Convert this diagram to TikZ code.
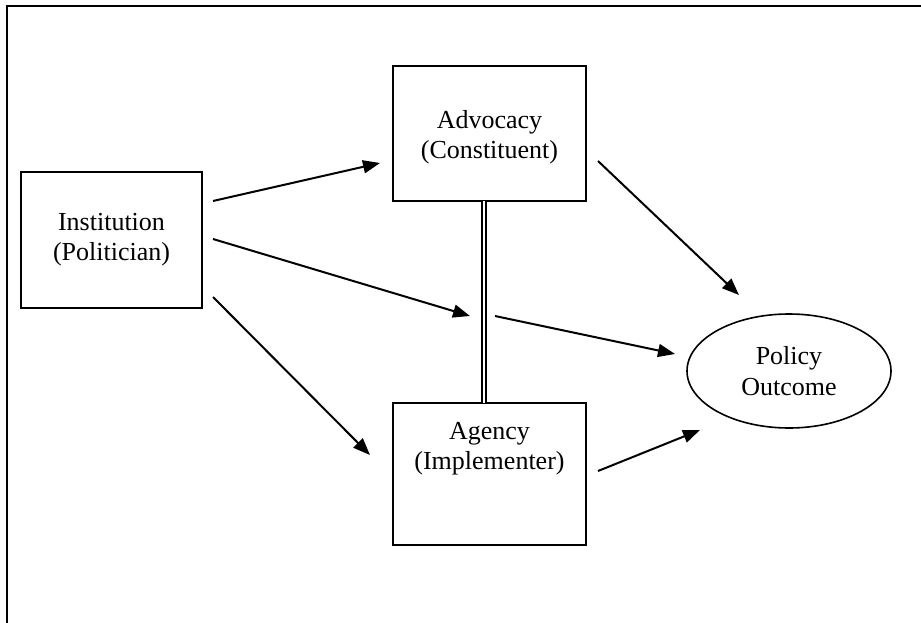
\documentclass[tikz,border=0pt]{standalone}
\usepackage{fontspec}
\setmainfont{Liberation Serif}
\usetikzlibrary{arrows.meta,shapes.geometric}
\begin{document}
\begin{tikzpicture}[x=1pt,y=-1pt,
  box/.style={draw,line width=1.6pt,align=center,inner sep=0pt,font=\fontsize{26}{30}\selectfont},
  txt/.style={align=center,inner sep=0pt,font=\fontsize{26}{30}\selectfont},
  oval/.style={draw,ellipse,line width=1.6pt,align=center,inner sep=0pt,font=\fontsize{26}{31}\selectfont},
  arr/.style={line width=2pt,-{Triangle[length=17pt,width=13pt]}},
  frame/.style={line width=2.4pt}]
\useasboundingbox (0,0) rectangle (921,623);
\coordinate (fb) at (7,623);
\coordinate (ftl) at (7,6);
\coordinate (ftr) at (921,6);
\draw[frame] (fb) -- (ftl) -- (ftr);
\node[box,minimum width=181pt,minimum height=136pt] (inst) at (111.5,240) {Institution\\(Politician)};
\node[box,minimum width=193pt,minimum height=135pt] (adv) at (489.5,133.5) {};
\node[txt] (advt) at (489.5,137) {Advocacy\\(Constituent)};
\node[box,minimum width=193pt,minimum height=142pt] (agc) at (489.5,474) {};
\node[txt] (agct) at (489.5,449) {Agency\\(Implementer)};
\node[oval,minimum width=204pt,minimum height=114pt] (pol) at (789,371) {Policy\\Outcome};
\coordinate (d1) at (484,201);
\coordinate (d2) at (484,403);
\draw[double,line width=1.4pt,double distance=2.6pt] (d1) -- (d2);
\coordinate (s1) at (213,201); \coordinate (e1) at (380,163);
\coordinate (s2) at (213,239); \coordinate (e2) at (470,316);
\coordinate (s3) at (213,297); \coordinate (e3) at (370,455);
\coordinate (s4) at (495,316); \coordinate (e4) at (675,354);
\coordinate (s5) at (598,161); \coordinate (e5) at (739,295);
\coordinate (s6) at (598,471); \coordinate (e6) at (700,430);
\draw[arr] (s1) -- (e1);
\draw[arr] (s2) -- (e2);
\draw[arr] (s3) -- (e3);
\draw[arr] (s4) -- (e4);
\draw[arr] (s5) -- (e5);
\draw[arr] (s6) -- (e6);
\end{tikzpicture}
\end{document}
